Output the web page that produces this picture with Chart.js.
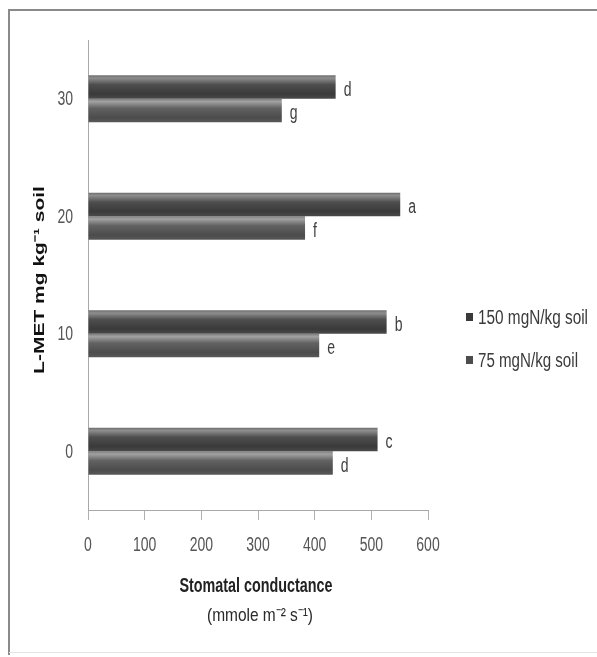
<!DOCTYPE html>
<html>
<head>
<meta charset="utf-8">
<script src="https://cdn.jsdelivr.net/npm/chart.js@4/dist/chart.umd.min.js"></script>
<style>
  html, body { margin: 0; padding: 0; background: #fff; }
  #wrap { width: 597px; height: 657px; position: relative; }
</style>
</head>
<body>
<div id="wrap"><canvas id="c"></canvas></div>
<script>
// L-MET dose (mg/kg soil), listed top to bottom
const categories = ['30', '20', '10', '0'];
const seriesNames = ['150 mgN/kg soil', '75 mgN/kg soil'];
// Stomatal conductance (mmole m-2 s-1)
const values150 = [437, 551, 527, 511];
const values75 = [342, 383, 408, 432];
// Mean-separation letters
const letters150 = ['d', 'a', 'b', 'c'];
const letters75 = ['g', 'f', 'e', 'd'];
const xTickValues = [0, 100, 200, 300, 400, 500, 600];

const SANS = "'Liberation Sans', Arial, sans-serif";
const SQUEEZE = 0.7;   // horizontal squeeze for the narrow lettering
const CAT_PCT = 0.4;

const shades = [
  [[0, '#6e6e6e'], [0.12, '#8e8e8e'], [0.4, '#4e4e4e'], [0.8, '#3a3a3a'], [1, '#4a4a4a']],
  [[0, '#7c7c7c'], [0.12, '#a2a2a2'], [0.4, '#626262'], [0.8, '#4c4c4c'], [1, '#585858']]
];

function barFill(context) {
  const stops = shades[context.datasetIndex] || shades[0];
  const chart = context.chart;
  const ys = chart.scales && chart.scales.y;
  if (!ys || context.dataIndex === undefined || !isFinite(ys.top)) return stops[2][1];
  const center = ys.getPixelForValue(context.dataIndex);
  const cat = (ys.bottom - ys.top) / categories.length;
  const h = cat * CAT_PCT / 2;
  const top = context.datasetIndex === 0 ? center - h : center;
  const g = chart.ctx.createLinearGradient(0, top, 0, top + h);
  stops.forEach(s => g.addColorStop(s[0], s[1]));
  return g;
}

// Draw text squeezed horizontally by factor sx, anchored at x according to align
function narrowText(ctx, text, x, y, font, sx, align) {
  ctx.save();
  ctx.font = font;
  ctx.textBaseline = 'middle';
  ctx.textAlign = align;
  ctx.translate(x, y);
  ctx.scale(sx, 1);
  ctx.fillText(text, 0, 0);
  ctx.restore();
}

// Draw text squeezed so that its width equals w
function fitText(ctx, text, x, y, font, w, align) {
  ctx.save();
  ctx.font = font;
  const sx = w / ctx.measureText(text).width;
  ctx.restore();
  narrowText(ctx, text, x, y, font, sx, align);
}

const decor = {
  id: 'decor',
  beforeDraw(chart) {
    const ctx = chart.ctx;
    ctx.save();
    ctx.fillStyle = '#fff';
    ctx.fillRect(0, 0, chart.width, chart.height);
    // outer frame
    ctx.strokeStyle = '#8a8a8a';
    ctx.lineWidth = 2;
    ctx.beginPath();
    ctx.moveTo(9, chart.height - 2);
    ctx.lineTo(9, 10);
    ctx.lineTo(chart.width, 10);
    ctx.stroke();
    ctx.strokeStyle = '#e4e4e4';
    ctx.lineWidth = 1;
    ctx.beginPath();
    ctx.moveTo(9, chart.height - 4.5);
    ctx.lineTo(chart.width, chart.height - 4.5);
    ctx.stroke();
    ctx.restore();
  },
  afterDatasetsDraw(chart) {
    const ctx = chart.ctx;
    ctx.fillStyle = '#404040';
    [letters150, letters75].forEach((letters, di) => {
      const meta = chart.getDatasetMeta(di);
      meta.data.forEach((el, i) => {
        narrowText(ctx, letters[i], el.x + 8, el.y + 3, '20px ' + SANS, SQUEEZE, 'left');
      });
    });
  },
  afterDraw(chart) {
    const ctx = chart.ctx;
    const xs = chart.scales.x, ys = chart.scales.y;
    ctx.save();
    // tick labels
    ctx.fillStyle = '#555';
    xTickValues.forEach(v => {
      narrowText(ctx, String(v), xs.getPixelForValue(v), 545, '20px ' + SANS, SQUEEZE, 'center');
    });
    categories.forEach((c, i) => {
      narrowText(ctx, c, 73, ys.getPixelForValue(i) + 1, '20px ' + SANS, SQUEEZE, 'right');
    });
    // y-axis title
    ctx.save();
    ctx.translate(40, 280);
    ctx.rotate(-Math.PI / 2);
    ctx.scale(1, 0.72);
    ctx.font = 'bold 21px ' + SANS;
    ctx.fillStyle = '#111';
    ctx.textAlign = 'center';
    ctx.textBaseline = 'middle';
    ctx.fillText('L-MET mg kg\u207B\u00B9 soil', 0, 0);
    ctx.restore();
    // x-axis title
    ctx.fillStyle = '#222';
    fitText(ctx, 'Stomatal conductance', 256, 586, 'bold 20px ' + SANS, 153, 'center');
    ctx.fillStyle = '#2a2a2a';
    fitText(ctx, '(mmole m\u207B\u00B2 s\u207B\u00B9)', 260, 616, '19px ' + SANS, 106, 'center');
    // legend
    const legendY = [317, 360];
    seriesNames.forEach((name, i) => {
      const y = legendY[i];
      ctx.fillStyle = shades[i][3][1];
      ctx.fillRect(466, y - 4, 7, 8);
      ctx.fillStyle = '#3a3a3a';
      fitText(ctx, name, 478, y + 1, '20px ' + SANS, i === 0 ? 110 : 100, 'left');
    });
    ctx.restore();
  }
};

new Chart(document.getElementById('c'), {
  type: 'bar',
  data: {
    labels: categories,
    datasets: [
      { label: seriesNames[0], data: values150, backgroundColor: barFill,
        categoryPercentage: CAT_PCT, barPercentage: 1.0, borderWidth: 0 },
      { label: seriesNames[1], data: values75, backgroundColor: barFill,
        categoryPercentage: CAT_PCT, barPercentage: 1.0, borderWidth: 0 }
    ]
  },
  options: {
    indexAxis: 'y',
    responsive: true,
    maintainAspectRatio: false,
    animation: false,
    events: [],
    layout: { padding: { left: 0, top: 40, right: 169, bottom: 107 } },
    plugins: { legend: { display: false }, tooltip: { enabled: false }, title: { display: false } },
    scales: {
      x: {
        type: 'linear',
        min: 0, max: 600,
        afterBuildTicks(scale) { scale.ticks = xTickValues.map(v => ({ value: v })); },
        afterFit(scale) { scale.height = 40; },
        grid: { drawOnChartArea: false, drawTicks: true, tickLength: 10, color: '#b0b0b0', lineWidth: 1 },
        border: { display: true, color: '#a8a8a8', width: 1 },
        ticks: { display: false }
      },
      y: {
        type: 'category',
        afterFit(scale) { scale.width = 88; },
        grid: { display: false },
        border: { display: true, color: '#a8a8a8', width: 1 },
        ticks: { display: false }
      }
    }
  },
  plugins: [decor]
});
</script>
</body>
</html>
